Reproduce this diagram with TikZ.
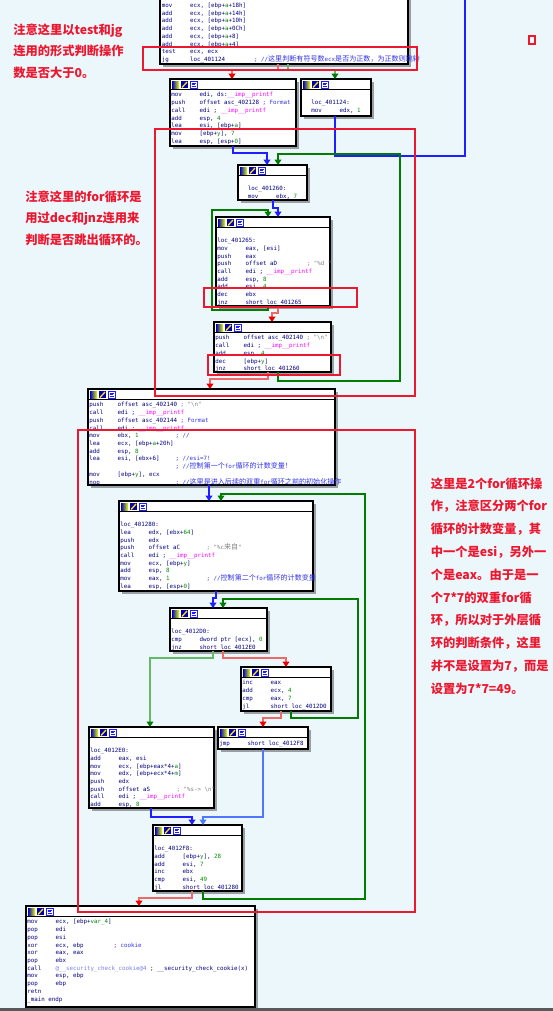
\documentclass[tikz,border=0pt]{standalone}
\usepackage{fontspec}
\usepackage{xcolor}
\usetikzlibrary{arrows.meta,fit,shadows}
\setmonofont{DejaVu Sans Mono}
\newfontfamily\cjk{Noto Sans CJK SC}

\definecolor{canvas}{RGB}{236,247,252}
\definecolor{navy}{RGB}{0,0,128}
\definecolor{numgreen}{RGB}{0,140,0}
\definecolor{impink}{RGB}{255,0,255}
\definecolor{cmtblue}{RGB}{50,50,230}
\definecolor{strgray}{RGB}{130,130,130}
\definecolor{extblue}{RGB}{120,130,230}
\definecolor{notered}{RGB}{236,24,48}
\definecolor{edgeblue}{RGB}{30,30,255}
\definecolor{edgebluel}{RGB}{80,120,255}
\definecolor{edgered}{RGB}{240,105,105}
\definecolor{tipred}{RGB}{235,0,0}
\definecolor{edgegreen}{RGB}{0,125,0}
\definecolor{edgegreenl}{RGB}{100,185,100}

\newcommand\codefont{\ttfamily\fontsize{4.36}{5.78}\selectfont\lineskiplimit=-10pt\lineskip=0pt}
\newcommand\notefont{\cjk\bfseries\fontsize{9.2}{16.1}\selectfont}
\newcommand\notefontw{\cjk\bfseries\fontsize{9.2}{17.1}\selectfont}
\newcommand\gn[1]{\textcolor{numgreen}{#1}}
\newcommand\pk[1]{\textcolor{impink}{#1}}
\newcommand\cm[1]{\textcolor{cmtblue}{#1}}
\newcommand\gy[1]{\textcolor{strgray}{#1}}
\newcommand\zh[1]{{\cjk\fontsize{5.3}{5.78}\selectfont #1}}
\newcommand\lnup{\rule{0pt}{3.3pt}}
\newcommand\ins[2]{\makebox[21.3pt][l]{#1}#2}
\newcommand\insc[4][43.5pt]{\makebox[21.3pt][l]{#2}\makebox[#1][l]{#3}#4}
\newcommand\imp{\pk{\_\_imp\_\_printf}}

\tikzset{
  blk/.style={draw=black, line width=1.1pt, fill=white, inner sep=0pt, outer sep=0pt,
    drop shadow={shadow xshift=2.2pt, shadow yshift=-2.2pt, fill=black, opacity=0.35}},
  hdrline/.style={draw=black, line width=0.6pt},
  code/.style={anchor=north west, inner sep=0pt, align=left, text=navy, font=\codefont},
  note/.style={anchor=north west, inner sep=0pt, align=left, text=notered, font=\notefont},
  hilite/.style={draw=notered, line width=0.8pt},
  jmp/.style={line width=1.3pt, -{Triangle[width=5pt,length=4pt]}},
  jmpblue/.style={jmp, draw=edgeblue},
  jmpbluel/.style={jmp, draw=edgebluel},
  jmpred/.style={line width=1.3pt, draw=edgered, -{Triangle[width=5pt,length=4pt,color=tipred]}},
  jmpgreen/.style={jmp, draw=edgegreen},
  jmpgreenl/.style={line width=1.3pt, draw=edgegreenl, -{Triangle[width=5pt,length=4pt,color=edgegreen]}},
}

\begin{document}
\begin{tikzpicture}[x=0.75pt, y=-0.75pt]
\useasboundingbox (0,0) rectangle (553,1011);
\fill[canvas] (0,0) rectangle (553,1011);
\clip (0,0) rectangle (553,1011);

% code blocks
\node[blk, fit={(160,-10.5) (408,64)}] (b1) {};
\node[blk, fit={(170,79) (296,146)}] (b2) {};
\node[blk, fit={(301,79) (371,116)}] (b3) {};
\node[blk, fit={(238,165) (307,200)}] (b4) {};
\node[blk, fit={(216,217) (330,306)}] (b5) {};
\node[blk, fit={(214,322) (331,372)}] (b6) {};
\node[blk, fit={(88,389) (335,485)}] (b7) {};
\node[blk, fit={(119,501) (313,591)}] (b8) {};
\node[blk, fit={(170,608) (267,651)}] (b9) {};
\node[blk, fit={(241,667) (331,711)}] (b10) {};
\node[blk, fit={(89,727) (214,808)}] (b11) {};
\node[blk, fit={(218,727) (308,749)}] (b12) {};
\node[blk, fit={(153,825) (242,891)}] (b13) {};
\node[blk, fit={(26,906) (255,1007)}] (b14) {};

% block headers with the three icons
\foreach \b in {b1,b2,b3,b4,b5,b6,b7,b8,b9,b10,b11,b12,b13,b14}{
  \draw[hdrline] ([yshift=-7.5pt]\b.north west) -- ([yshift=-7.5pt]\b.north east);
  \begin{scope}[shift={(\b.north west)}, line width=0.4pt]
    \shade[left color=blue!75!black, middle color=red!85!black, right color=yellow!90!green] (2,2) rectangle (9,9);
    \fill[blue!70!black] (11,2) rectangle (18,9);
    \draw[yellow!80!orange, line width=1pt] (12,8.5) -- (17,3);
    \draw[edgeblue, fill=white] (20,2) rectangle (27,9);
    \draw[edgeblue, line width=0.6pt] (21.5,4) -- (25.5,4) (21.5,5.5) -- (24.5,5.5) (21.5,7) -- (25.5,7);
  \end{scope}
}

\node[code] (c1) at ([shift={(1.5,13.3)}]b1.north west) {\lnup\ins{mov}{ecx, [ebp+\gn{a}+18h]}\\
\ins{add}{ecx, [ebp+\gn{a}+14h]}\\
\ins{add}{ecx, [ebp+\gn{a}+10h]}\\
\ins{add}{ecx, [ebp+\gn{a}+0Ch]}\\
\ins{add}{ecx, [ebp+\gn{a}+8]}\\
\ins{add}{ecx, [ebp+\gn{a}+4]}\\
\ins{test}{ecx, ecx}\\
\insc[48pt]{jg}{loc\_401124}{\cm{; //\zh{这里判断有符号数}ecx\zh{是否为正数，为正数则跳转}}}};

\node[code] (c2) at ([shift={(1,13.3)}]b2.north west) {\lnup\ins{mov}{edi, ds:\imp}\\
\ins{push}{offset asc\_402128 \cm{; Format}}\\
\ins{call}{edi ; \imp}\\
\ins{add}{esp, \gn{4}}\\
\ins{lea}{esi, [ebp+\gn{a}]}\\
\ins{mov}{[ebp+\gn{y}], \gn{7}}\\
\ins{lea}{esp, [esp+\gn{0}]}};

\node[code] (c3) at ([shift={(10,13.3)}]b3.north west) {\lnup\\
loc\_401124:\\
\ins{mov}{edx, \gn{1}}};

\node[code] (c4) at ([shift={(9.5,13.3)}]b4.north west) {\lnup\\
loc\_401260:\\
\ins{mov}{ebx, \gn{7}}};

\node[code] (c5) at ([shift={(1,13.3)}]b5.north west) {\lnup\\
loc\_401265:\\
\ins{mov}{eax, [esi]}\\
\ins{push}{eax}\\
\insc[46pt]{push}{offset aD}{\gy{; "\%d "}}\\
\ins{call}{edi ; \imp}\\
\ins{add}{esp, \gn{8}}\\
\ins{add}{esi, \gn{4}}\\
\ins{dec}{ebx}\\
\ins{jnz}{short loc\_401265}};

\node[code] (c6) at ([shift={(1,13.3)}]b6.north west) {\lnup\ins{push}{offset asc\_402140 \gy{; "\textbackslash n"}}\\
\ins{call}{edi ; \imp}\\
\ins{add}{esp, \gn{4}}\\
\ins{dec}{[ebp+\gn{y}]}\\
\ins{jnz}{short loc\_401260}};

\node[code] (c7) at ([shift={(1,13.3)}]b7.north west) {\lnup\ins{push}{offset asc\_402140 \gy{; "\textbackslash n"}}\\
\ins{call}{edi ; \imp}\\
\ins{push}{offset asc\_402144 \cm{; Format}}\\
\ins{call}{edi ; \imp}\\
\insc{mov}{ebx, \gn{1}}{\cm{; //}}\\
\ins{lea}{ecx, [ebp+\gn{a}+20h]}\\
\ins{add}{esp, \gn{8}}\\
\insc{lea}{esi, [ebx+6]}{\cm{; //esi=7!}}\\
\hspace*{64.8pt}\cm{; //\zh{控制第一个}for\zh{循环的计数变量！}}\\
\ins{mov}{[ebp+\gn{y}], ecx}\\
\insc{nop}{}{\cm{; //\zh{这里是进入后续的双重}for\zh{循环之前的初始化操作}}}};

\node[code] (c8) at ([shift={(1,13.3)}]b8.north west) {\lnup\\
loc\_401280:\\
\ins{lea}{edx, [ebx+\gn{64}]}\\
\ins{push}{edx}\\
\insc{push}{offset aC}{\gy{; "\%c\zh{来自}"}}\\
\ins{call}{edi ; \imp}\\
\ins{mov}{ecx, [ebp+\gn{y}]}\\
\ins{add}{esp, \gn{8}}\\
\insc{mov}{eax, \gn{1}}{\cm{; //\zh{控制第二个}for\zh{循环的计数变量}}}\\
\ins{lea}{esp, [esp+\gn{0}]}};

\node[code] (c9) at ([shift={(1,13.3)}]b9.north west) {\lnup\\
loc\_4012D0:\\
\ins{cmp}{dword ptr [ecx], \gn{0}}\\
\ins{jnz}{short loc\_4012E0}};

\node[code] (c10) at ([shift={(1,13.3)}]b10.north west) {\lnup\ins{inc}{eax}\\
\ins{add}{ecx, \gn{4}}\\
\ins{cmp}{eax, \gn{7}}\\
\ins{jl}{short loc\_4012D0}};

\node[code] (c11) at ([shift={(1,13.3)}]b11.north west) {\lnup\\
loc\_4012E0:\\
\ins{add}{eax, esi}\\
\ins{mov}{ecx, [ebp+eax*4+\gn{a}]}\\
\ins{mov}{edx, [ebp+ecx*4+\gn{m}]}\\
\ins{push}{edx}\\
\insc{push}{offset aS}{\gy{; "\%s-> \textbackslash n"}}\\
\ins{call}{edi ; \imp}\\
\ins{add}{esp, \gn{8}}};

\node[code] (c12) at ([shift={(1,13.3)}]b12.north west) {\lnup\ins{jmp}{short loc\_4012F8}};

\node[code] (c13) at ([shift={(1,13.3)}]b13.north west) {\lnup\\
loc\_4012F8:\\
\ins{add}{[ebp+\gn{y}], \gn{28}}\\
\ins{add}{esi, \gn{7}}\\
\ins{inc}{ebx}\\
\ins{cmp}{esi, \gn{49}}\\
\ins{jl}{short loc\_401280}};

\node[code] (c14) at ([shift={(1,13.3)}]b14.north west) {\lnup\ins{mov}{ecx, [ebp+\gn{var\_4}]}\\
\ins{pop}{edi}\\
\ins{pop}{esi}\\
\insc{xor}{ecx, ebp}{\cm{; cookie}}\\
\ins{xor}{eax, eax}\\
\ins{pop}{ebx}\\
\ins{call}{\textcolor{extblue}{@\_\_security\_check\_cookie@4} ; \_\_security\_check\_cookie(x)}\\
\ins{mov}{esp, ebp}\\
\ins{pop}{ebp}\\
retn\\
\_main endp};

% branches
\coordinate (upout) at (465,-5);
\draw[jmpred] (b1.south -| 278,0) |- (232,70) -- (b2.north -| 232,0);
\draw[jmpgreenl] (b1.south -| 288,0) |- (335,70) -- (b3.north -| 335,0);
\draw[jmpblue] (b2.south -| 233,0) |- (267,153) -- (b4.north -| 267,0);
\draw[jmpblue, -] (b3.south -| 335,0) |- (465,156) -- (upout);
\draw[jmpgreen] (b6.south -| 278,0) |- (400,381) |- (278,154) -- (b4.north -| 278,0);
\draw[jmpblue] (b4.south -| 273,0) |- (278,208) -- (b5.north -| 278,0);
\draw[jmpgreen] (b5.south -| 268,0) |- (212,310) |- (268,210) -- (b5.north -| 268,0);
\draw[jmpred] (b5.south -| 278,0) |- (272,313) -- (b6.north -| 272,0);
\draw[jmpred] (b6.south -| 268,0) |- (210,379) -- (b7.north -| 210,0);
\draw[jmpblue] (b7.south -| 209,0) -- (b8.north -| 209,0);
\draw[jmpgreen] (b13.south -| 203,0) |- (365,899) |- (221,494) -- (b8.north -| 221,0);
\draw[jmpblue] (b8.south -| 216,0) |- (213,598) -- (b9.north -| 213,0);
\draw[jmpgreen] (b10.south -| 291,0) |- (358,718) |- (223,599) -- (b9.north -| 223,0);
\draw[jmpred] (b9.south -| 223,0) |- (286,658) -- (b10.north -| 286,0);
\draw[jmpgreenl] (b9.south -| 213,0) |- (150,658) -- (b11.north -| 150,0);
\draw[jmpred] (b10.south -| 281,0) |- (263,718) -- (b12.north -| 263,0);
\draw[jmpblue] (b11.south -| 151,0) |- (192,817) -- (b13.north -| 192,0);
\draw[jmpbluel] (b12.south -| 263,0) |- (203,817) -- (b13.north -| 203,0);
\draw[jmpred] (b13.south -| 192,0) |- (139,898) -- (b14.north -| 139,0);

% notes
\node[note] (n1) at (13,23.6) {注意这里以test和jg\\连用的形式判断操作\\数是否大于0。};
\node[note] (n2) at (25,190.4) {注意这里的for循环是\\用过dec和jnz连用来\\判断是否跳出循环的。};
\node[note, font=\notefontw] (n3) at (430.5,477.3) {这里是2个for循环操\\作，注意区分两个for\\循环的计数变量，其\\中一个是esi，另外一\\个是eax。由于是一\\个7*7的双重for循\\环，所以对于外层循\\环的判断条件，这里\\并不是设置为7，而是\\设置为7*7=49。};

% red marks
\draw[hilite] (143,47) rectangle (417,70);
\draw[hilite] (155,129) rectangle (415,396);
\draw[hilite] (78,430) rectangle (415,912);
\draw[hilite] (204,288) rectangle (357,307);
\draw[hilite] (208,355) rectangle (340,375);
\draw[hilite] (529,36) rectangle (535,44);

\fill[black!65] (0,1007.5) rectangle (553,1011);
\end{tikzpicture}
\end{document}
